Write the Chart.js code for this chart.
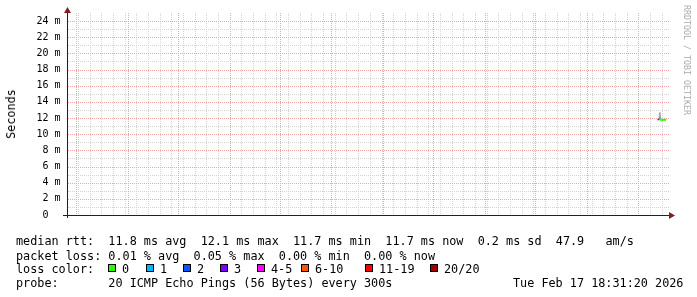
<!DOCTYPE html>
<html>
<head>
<meta charset="utf-8">
<script src="https://cdn.jsdelivr.net/npm/chart.js@4/dist/chart.umd.min.js"></script>
<style>
  body { margin: 0; background: #fff; }
  #wrap { position: relative; width: 697px; height: 297px; overflow: hidden; }
  #chart { position: absolute; left: 0; top: 0; }
  .t { position: absolute; font-family: "DejaVu Sans Mono", monospace; white-space: pre; color: #000; }
  .row { font-size: 11.8px; line-height: 14px; }
  .box { position: absolute; width: 6px; height: 6px; border: 1px solid #000; }
</style>
</head>
<body>
<div id="wrap">
  <canvas id="chart" width="697" height="297"></canvas>
  <div class="t" id="ytitle" style="left:10.5px;top:114px;font-size:11.8px;transform:translate(-50%,-50%) rotate(-90deg);">Seconds</div>
  <div class="t" id="mark" style="left:687px;top:60px;font-size:8.3px;color:#ababab;transform:translate(-50%,-50%) rotate(90deg);">RRDTOOL / TOBI OETIKER</div>
  <div class="t row" style="left:16px;top:234px;">median rtt:  11.8 ms avg  12.1 ms max  11.7 ms min  11.7 ms now  0.2 ms sd  47.9   am/s</div>
  <div class="t row" style="left:16px;top:248.5px;">packet loss: 0.01 % avg  0.05 % max  0.00 % min  0.00 % now</div>
  <div class="t row" id="lossRow" style="left:16px;top:262px;">loss color:</div>
  <div class="t row" style="left:16px;top:276.3px;">probe:       20 ICMP Echo Pings (56 Bytes) every 300s</div>
  <div class="t row" style="left:513px;top:276.3px;">Tue Feb 17 18:31:20 2026</div>
</div>
<script>
// x values are days counted from 1 March 2025
const xMin = -5.6;
const xMax = 355.4;
const yMin = 0;
const yMax = 25;   // ms

const monthStarts = [0, 31, 61, 92, 122, 153, 184, 214, 245, 275, 306, 337];
const labelDays   = [15, 76, 137, 199, 260, 321];
const monthLabels = ['March 2025', 'May 2025', 'July 2025', 'September 2025', 'November 2025', 'January 2026'];
const yMajor      = [0, 2, 4, 6, 8, 10, 12, 14, 16, 18, 20, 22, 24];
const yLabels     = ['0  ', '2 m', '4 m', '6 m', '8 m', '10 m', '12 m', '14 m', '16 m', '18 m', '20 m', '22 m', '24 m'];

// median rtt, loss 0 (green)
const medianDays = [350.0, 350.8, 351.6, 352.4, 353.2, 353.77];
const medianMs   = [11.8, 11.8, 11.75, 11.8, 11.8, 11.75];
// sample with 1 lost ping (blue)
const loss1Days  = [349.9, 349.9];
const loss1Ms    = [11.9, 12.2];
// smoke (ping spread)
const smokeDays  = [349.9, 349.9];
const smokeMs    = [12.1, 12.7];
const smokeLoDays = [349.1, 349.1];
const smokeLoMs   = [11.72, 11.92];

const lossLabels = ['0', '1', '2', '3', '4-5', '6-10', '11-19', '20/20'];
const lossColors = ['#26ff00', '#00b8ff', '#0059ff', '#7e00ff', '#ff00ff', '#ff5500', '#ff0000', '#a00000'];
const lossBoxX   = [108, 146, 183, 220, 257, 301, 365, 430];

const wrap = document.getElementById('wrap');
lossLabels.forEach((lab, i) => {
    const b = document.createElement('span');
    b.className = 'box';
    b.style.left = lossBoxX[i] + 'px';
    b.style.top = '264px';
    b.style.background = lossColors[i];
    wrap.appendChild(b);
    const t = document.createElement('div');
    t.className = 't row';
    t.style.left = (lossBoxX[i] + 14) + 'px';
    t.style.top = '262px';
    t.textContent = lab;
    wrap.appendChild(t);
});

const weekDays = [];
for (let d = 1; d <= xMax; d += 7) weekDays.push(d);
const yMinor = [];
for (let v = 1; v < yMax; v++) yMinor.push(v);

const pts = (xs, ys) => xs.map((x, i) => ({ x: x, y: ys[i] }));

const gridGray = '#d2d2d2';
const gridRed  = '#f2a6a6';
const mono = '"DejaVu Sans Mono", monospace';

// rrdtool style dotted grid (one dot every 2 px), placed through the chart's own scales
const gridPlugin = {
    id: 'rrdGrid',
    beforeDatasetsDraw(chart) {
        const { ctx, chartArea: a, scales } = chart;
        const top = Math.round(a.top), bottom = Math.round(a.bottom);
        const left = Math.round(a.left), right = Math.round(a.right);
        const vLines = (vals, color) => {
            ctx.fillStyle = color;
            vals.forEach(v => {
                const px = Math.round(scales.x.getPixelForValue(v));
                if (px <= left + 1 || px >= right) return;
                for (let y = top; y < bottom; y += 2) ctx.fillRect(px, y, 1, 1);
            });
        };
        const hLines = (vals, color) => {
            ctx.fillStyle = color;
            vals.forEach(v => {
                const py = Math.round(scales.y.getPixelForValue(v));
                if (py >= bottom || py <= top) return;
                for (let x = left + 1; x < right; x += 2) ctx.fillRect(x, py, 1, 1);
            });
        };
        ctx.save();
        vLines(weekDays, gridGray);
        hLines(yMinor, gridGray);
        vLines(monthStarts, gridRed);
        hLines(yMajor, gridRed);
        ctx.restore();
    }
};

const axesPlugin = {
    id: 'rrdAxes',
    afterDraw(chart) {
        const { ctx, chartArea: a } = chart;
        ctx.save();
        ctx.strokeStyle = '#202020';
        ctx.lineWidth = 1;
        ctx.beginPath();
        ctx.moveTo(a.left + 0.5, a.bottom + 3);
        ctx.lineTo(a.left + 0.5, a.top - 4);
        ctx.moveTo(a.left - 4, a.bottom + 0.5);
        ctx.lineTo(a.right + 2, a.bottom + 0.5);
        ctx.stroke();
        ctx.fillStyle = '#801f1f';
        ctx.beginPath();
        ctx.moveTo(a.left - 3, a.top);
        ctx.lineTo(a.left + 4, a.top);
        ctx.lineTo(a.left + 0.5, a.top - 6);
        ctx.closePath();
        ctx.fill();
        ctx.beginPath();
        ctx.moveTo(a.right, a.bottom - 3);
        ctx.lineTo(a.right, a.bottom + 4);
        ctx.lineTo(a.right + 6, a.bottom + 0.5);
        ctx.closePath();
        ctx.fill();
        ctx.restore();
    }
};

const zero = (s) => { s.height = 0; };
const zeroW = (s) => { s.width = 0; };

new Chart(document.getElementById('chart'), {
    type: 'line',
    data: {
        datasets: [
            { data: pts(smokeLoDays, smokeLoMs), borderColor: '#404040', borderWidth: 2, pointRadius: 0 },
            { data: pts(smokeDays, smokeMs), borderColor: '#a8a8a8', borderWidth: 2, pointRadius: 0 },
            { data: pts(loss1Days, loss1Ms), borderColor: '#00b8ff', borderWidth: 2, pointRadius: 0 },
            { data: pts(medianDays, medianMs), borderColor: '#26ff00', borderWidth: 2, pointRadius: 0 }
        ]
    },
    options: {
        responsive: false,
        animation: false,
        events: [],
        layout: { padding: { left: 0, right: 28, top: 13, bottom: 82 } },
        plugins: { legend: { display: false }, tooltip: { enabled: false } },
        elements: { line: { tension: 0 } },
        scales: {
            x: {
                type: 'linear', position: 'bottom', min: xMin, max: xMax,
                afterFit: zero,
                ticks: { display: false },
                grid: { display: false },
                border: { display: false }
            },
            x3: {
                type: 'linear', axis: 'x', position: 'bottom', min: xMin, max: xMax,
                afterBuildTicks: s => { s.ticks = labelDays.map(v => ({ value: v })); },
                afterFit: zero,
                ticks: {
                    autoSkip: false, maxRotation: 0, padding: 3.5, color: '#000',
                    font: { family: mono, size: 10 },
                    callback: (v, i) => monthLabels[i]
                },
                grid: { display: false, drawTicks: false },
                border: { display: false }
            },
            y: {
                type: 'linear', position: 'left', min: yMin, max: yMax,
                afterFit: zeroW,
                ticks: { display: false },
                grid: { display: false },
                border: { display: false }
            },
            y2: {
                type: 'linear', axis: 'y', position: 'left', min: yMin, max: yMax,
                afterBuildTicks: s => { s.ticks = yMajor.map(v => ({ value: v })); },
                afterFit: s => { s.width = 67; },
                ticks: {
                    autoSkip: false, padding: 6.5, color: '#000',
                    font: { family: mono, size: 10 },
                    callback: (v, i) => yLabels[i]
                },
                grid: { display: false, drawTicks: false },
                border: { display: false }
            }
        }
    },
    plugins: [gridPlugin, axesPlugin]
});
</script>
</body>
</html>
